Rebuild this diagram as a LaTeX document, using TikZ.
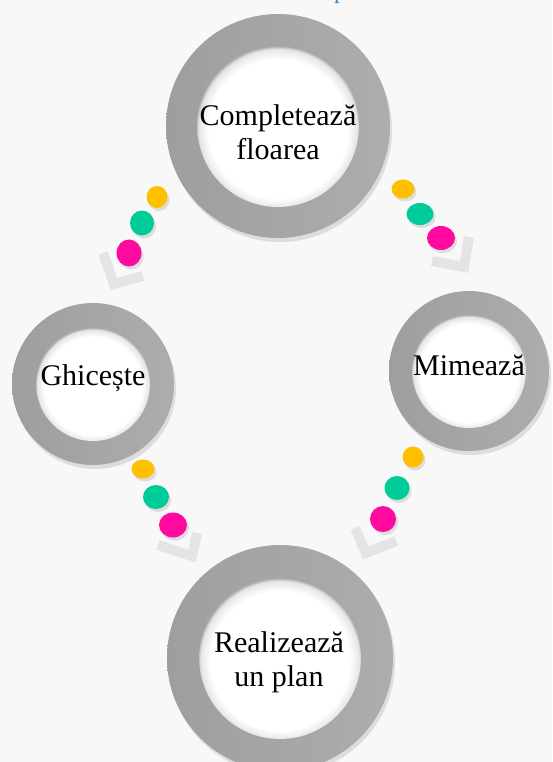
\documentclass[tikz,border=0pt]{standalone}
\usepackage{fontspec}
\setmainfont{Liberation Serif}
\usepackage{tikz}
\usetikzlibrary{positioning, shapes.geometric, shadows}
\usepackage{xcolor}
\definecolor{paper}{HTML}{F8F8F8}
\definecolor{ringdark}{HTML}{9E9E9E}
\definecolor{ringlight}{HTML}{ADADAD}
\definecolor{dotorange}{HTML}{FFC000}
\definecolor{dotgreen}{HTML}{00CC99}
\definecolor{dotpink}{HTML}{FF0A9E}
\definecolor{chevgray}{HTML}{E4E4E4}
\definecolor{titleblue}{HTML}{3C86BC}
\pgfdeclareradialshading{hole}{\pgfpoint{0bp}{-1.5bp}}{color(0bp)=(white); color(21.5bp)=(white); color(24.5bp)=(black!10); color(25.5bp)=(black!35); color(50bp)=(black!35)}

\begin{document}
\begin{tikzpicture}[x=1pt, y=-1pt,
  ring/.style={circle, minimum size=#1, inner sep=0pt, left color=ringdark, right color=ringlight,
    drop shadow={opacity=.22, shadow xshift=2pt, shadow yshift=-4pt}},
  hole/.style={circle, minimum size=#1, inner sep=0pt, shading=hole},
  ringtext/.style={align=center, inner sep=0pt, font=\fontsize{30}{34}\selectfont},
  dot/.style={ellipse, inner sep=0pt, fill=#1, drop shadow={opacity=.22, shadow xshift=2pt, shadow yshift=-3pt}},
  chev/.style={draw=chevgray, line width=10pt, preaction={draw=black!15, transform canvas={shift={(2pt,-3pt)}}}}]
\useasboundingbox (0,0) rectangle (552,762);
\fill[paper] (0,0) rectangle (552,762);
\node[anchor=base west, inner sep=0pt, text=titleblue, font=\fontsize{24}{28}\selectfont] (title) at (334,-1) {p};

% rings
\node[ring=224] (compl-o) at (278,126) {};
\node[hole=162] (compl-i) at (compl-o) {};
\node[ringtext] (compl) at (278,132) {Completează\\floarea};

\node[ring=162] (ghic-o) at (93,384) {};
\node[hole=114] (ghic-i) at (ghic-o) {};
\node[ringtext] (ghic) at (93,378) {Ghicește};

\node[ring=160] (mim-o) at (469,371) {};
\node[hole=114] (mim-i) at (mim-o) {};
\node[ringtext] (mim) at (469,365) {Mimează};

\node[ring=226] (real-o) at (280,658) {};
\node[hole=162] (real-i) at (real-o) {};
\node[ringtext] (real) at (279,662) {Realizează\\un plan};

% top -> left
\node[dot=dotorange, minimum width=21, minimum height=22] (tl1) at (157,197) {};
\node[dot=dotgreen, minimum width=24, minimum height=25] (tl2) at (142,223) {};
\node[dot=dotpink, minimum width=25, minimum height=27] (tl3) at (129,253) {};
\draw[chev] (103,253) -- (114,284) -- (143,276);

% top -> right
\node[dot=dotorange, minimum width=23, minimum height=19] (tr1) at (403,189) {};
\node[dot=dotgreen, minimum width=27, minimum height=22] (tr2) at (420,214) {};
\node[dot=dotpink, minimum width=28, minimum height=24] (tr3) at (441,238) {};
\draw[chev] (469,237) -- (464,267) -- (432,261);

% left -> bottom
\node[dot=dotorange, minimum width=23, minimum height=19] (bl1) at (143,469) {};
\node[dot=dotgreen, minimum width=26, minimum height=24] (bl2) at (156,497) {};
\node[dot=dotpink, minimum width=28, minimum height=25] (bl3) at (173,525) {};
\draw[chev] (197,533) -- (192,556) -- (158,545);

% right -> bottom
\node[dot=dotorange, minimum width=21, minimum height=21] (br1) at (413,457) {};
\node[dot=dotgreen, minimum width=25, minimum height=24] (br2) at (397,488) {};
\node[dot=dotpink, minimum width=26, minimum height=26] (br3) at (383,519) {};
\draw[chev] (355,528) -- (366,553) -- (396,541);
\end{tikzpicture}
\end{document}
